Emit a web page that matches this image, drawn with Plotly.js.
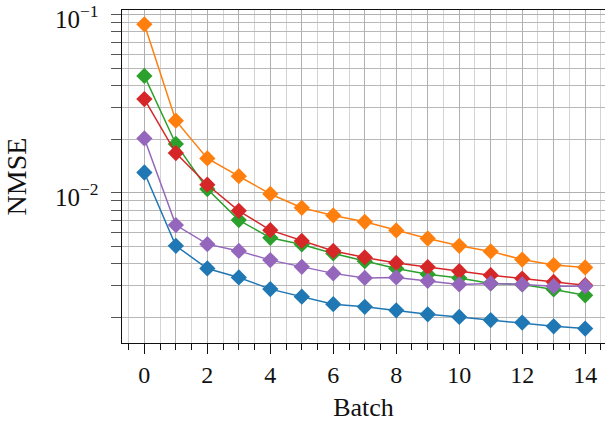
<!DOCTYPE html>
<html>
<head>
<meta charset="utf-8">
<script src="https://cdn.plot.ly/plotly-3.0.1.min.js"></script>
<style>html,body{margin:0;padding:0;background:#fff;}#chart{width:605px;height:424px;}</style>
</head>
<body>
<div id="chart"></div>
<script>
const batches = [0,1,2,3,4,5,6,7,8,9,10,11,12,13,14];
const seriesBlue   = [0.0130,0.00504,0.00376,0.00335,0.00288,0.00261,0.00237,0.00229,0.00219,0.00208,0.00201,0.00193,0.00187,0.00178,0.00173];
const seriesOrange = [0.0883,0.0254,0.0156,0.0124,0.00985,0.00824,0.00746,0.00687,0.00615,0.00554,0.00504,0.00469,0.00422,0.00393,0.00381];
const seriesGreen  = [0.0453,0.0188,0.0105,0.00703,0.00559,0.00513,0.00457,0.00413,0.00376,0.00349,0.00333,0.00310,0.00306,0.00287,0.00266];
const seriesRed    = [0.0336,0.0167,0.0111,0.00792,0.00617,0.00537,0.00472,0.00434,0.00404,0.00383,0.00363,0.00345,0.00330,0.00316,0.00303];
const seriesPurple = [0.0202,0.00659,0.00515,0.00472,0.00419,0.00384,0.00353,0.00333,0.00335,0.00320,0.00306,0.00310,0.00306,0.00299,0.00299];
const xTickVals = [0,2,4,6,8,10,12,14];
const xTickText = ['0','2','4','6','8','10','12','14'];
const xMinorVals = [-0.5,0.5,1,1.5,2.5,3,3.5,4.5,5,5.5,6.5,7,7.5,8.5,9,9.5,10.5,11,11.5,12.5,13,13.5,14.5];
const xOddVals = [1,3,5,7,9,11,13];
const yTickVals = [0.01,0.1];
const yTickText = ['10<sup>−2</sup>','10<sup>−1</sup>'];
const yMinorVals = [0.002,0.003,0.004,0.005,0.006,0.007,0.008,0.009,0.02,0.03,0.04,0.05,0.06,0.07,0.08,0.09];

const colors = ['#1f77b4','#ff7f0e','#2ca02c','#d62728','#9467bd'];
const all = [seriesBlue, seriesOrange, seriesGreen, seriesRed, seriesPurple];
const traces = all.map((s,i)=>({
  x: batches, y: s, type:'scatter', mode:'lines+markers',
  line:{color:colors[i], width:1.5},
  marker:{symbol:'diamond', size:12.5, color:colors[i]},
  showlegend:false
}));
// invisible helper trace so the overlay axis (odd-integer grid) is drawn
traces.unshift({x: batches, y: seriesBlue, xaxis:'x2', yaxis:'y', type:'scatter', mode:'markers',
  marker:{opacity:0}, showlegend:false, hoverinfo:'skip'});
const font = "'Liberation Serif', 'DejaVu Serif', serif";
const xr = [-0.71,14.63];
// y tick labels drawn as annotations so the whole label (with superscript) is centred on its tick
const yLabelAnns = yTickVals.map((v,i)=>({
  xref:'paper', yref:'y', x:0, y:Math.log10(v), text:yTickText[i], showarrow:false,
  xanchor:'right', yanchor:'middle', xshift:-21, yshift:-2,
  font:{family:font, size:25, color:'#111'}
}));
const layout = {
  width:605, height:424,
  margin:{l:122, r:0, t:10, b:81},
  paper_bgcolor:'#fff', plot_bgcolor:'#fff',
  font:{family:font, size:24, color:'#111'},
  annotations: yLabelAnns,
  xaxis:{
    range:xr, tickmode:'array', tickvals:xTickVals, ticktext:xTickText,
    ticks:'outside', ticklen:10, tickwidth:1.2, tickcolor:'#111',
    showgrid:true, gridcolor:'#b0b0b0', gridwidth:1,
    minor:{tickmode:'array', tickvals:xMinorVals, ticks:'outside', ticklen:6, tickwidth:1, tickcolor:'#111', showgrid:true, gridcolor:'#d4d4d4', gridwidth:1},
    showline:true, linecolor:'#111', linewidth:1.3, mirror:true,
    zeroline:false,
    title:{text:'Batch', font:{family:font, size:26}, standoff:10},
    tickfont:{family:font, size:24}
  },
  xaxis2:{
    overlaying:'x', range:xr, tickmode:'array', tickvals:xOddVals, ticks:'', showticklabels:false,
    showgrid:true, gridcolor:'#b0b0b0', gridwidth:1, zeroline:false, showline:false
  },
  yaxis:{
    type:'log', range:[-2.843,-0.974],
    tickmode:'array', tickvals:yTickVals, showticklabels:false,
    ticks:'outside', ticklen:10, tickwidth:1, tickcolor:'#555',
    showgrid:true, gridcolor:'#b0b0b0', gridwidth:1,
    minor:{tickmode:'array', tickvals:yMinorVals, ticks:'outside', ticklen:10, tickwidth:1, tickcolor:'#555', showgrid:true, gridcolor:'#b8b8b8', gridwidth:1},
    showline:true, linecolor:'#111', linewidth:1.3, mirror:false,
    zeroline:false,
    title:{text:'NMSE', font:{family:font, size:28}, standoff:76}
  }
};
Plotly.newPlot('chart', traces, layout, {staticPlot:true, displayModeBar:false});
</script>
</body>
</html>
